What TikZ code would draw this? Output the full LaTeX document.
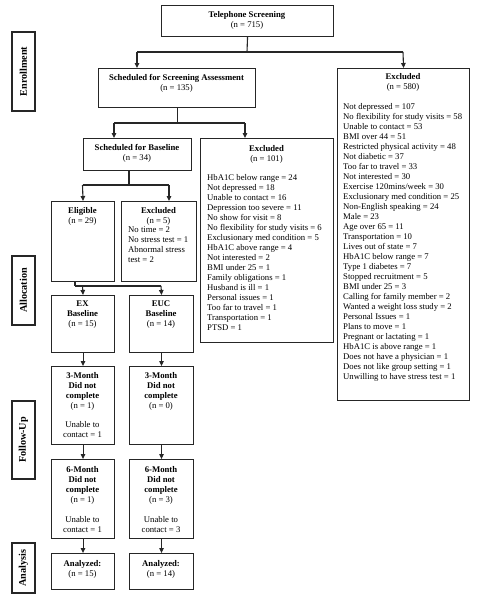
\documentclass[tikz,border=0pt]{standalone}
\usepackage{fontspec}
\setmainfont{Liberation Serif}
\usetikzlibrary{arrows.meta}
\newcommand\bx[5]{\node[box, anchor=north west, minimum width=#4-#2, minimum height=#5-#3] (#1) at (#2,#3) {};}
\begin{document}
\begin{tikzpicture}[x=1pt,y=-1pt,
  box/.style={draw=black!85, line width=1.1pt, inner sep=0pt},
  txt/.style={inner sep=0pt, align=center, font=\fontsize{8.7}{10}\selectfont, anchor=north},
  lst/.style={inner sep=0pt, align=left, font=\fontsize{8.7}{10}\selectfont, anchor=north west},
  lab/.style={draw=black!85, line width=1.1pt, inner sep=0pt, rotate=90, font=\bfseries\fontsize{10.2}{12}\selectfont},
  ln/.style={draw=black!85, line width=1.1pt},
  arr/.style={draw=black!85, line width=1.1pt, -{Triangle[length=5pt,width=4.5pt]}}]
\useasboundingbox[fill=white] (0,0) rectangle (478,600);

% side labels
\node[lab, minimum width=79, minimum height=23] (enr) at (23.5,71.5) {Enrollment};
\node[lab, minimum width=69, minimum height=23] (alloc) at (23.5,290.5) {Allocation};
\node[lab, minimum width=78, minimum height=23] (fu) at (23.5,440) {Follow-Up};
\node[lab, minimum width=50, minimum height=23] (ana) at (23.5,568) {Analysis};

% boxes
\bx{tel}{161}{5}{333}{36}
\bx{sched}{98}{68}{255}{107}
\bx{ex580}{337}{68}{469}{400}
\bx{base}{83}{138}{191}{170}
\bx{ex101}{200}{138}{333}{342}
\bx{elig}{51}{201}{114}{281}
\bx{ex5}{121}{201}{196}{281}
\bx{exb}{51}{295}{114}{352}
\bx{eucb}{129}{295}{193}{352}
\bx{ex3}{51}{366}{114}{444}
\bx{euc3}{129}{366}{193}{444}
\bx{ex6}{51}{459}{114}{538}
\bx{euc6}{129}{459}{193}{538}
\bx{exa}{51}{553}{114}{589}
\bx{euca}{129}{553}{193}{589}

% texts
\node[txt] (telt) at (247,10.8) {\textbf{Telephone Screening}\\(n = 715)};
\node[txt] (schedt) at (176.5,73.8) {\textbf{Scheduled for Screening Assessment}\\(n = 135)};
\node[txt] (ex580h) at (403,73.3) {\textbf{Excluded}\\(n = 580)};
\node[lst] (ex580l) at (343,103.3) {Not depressed = 107\\No flexibility for study visits = 58\\Unable to contact = 53\\BMI over 44 = 51\\Restricted physical activity = 48\\Not diabetic = 37\\Too far to travel = 33\\Not interested = 30\\Exercise 120mins/week = 30\\Exclusionary med condition = 25\\Non-English speaking = 24\\Male = 23\\Age over 65 = 11\\Transportation = 10\\Lives out of state = 7\\HbA1C below range = 7\\Type 1 diabetes = 7\\Stopped recruitment = 5\\BMI under 25 = 3\\Calling for family member = 2\\Wanted a weight loss study = 2\\Personal Issues = 1\\Plans to move = 1\\Pregnant or lactating = 1\\HbA1C is above range = 1\\Does not have a physician = 1\\Does not like group setting = 1\\Unwilling to have stress test = 1};
\node[txt] (ex101h) at (266.5,144.8) {\textbf{Excluded}\\(n = 101)};
\node[lst] (ex101l) at (207,173.8) {HbA1C below range = 24\\Not depressed = 18\\Unable to contact = 16\\Depression too severe = 11\\No show for visit = 8\\No flexibility for study visits = 6\\Exclusionary med condition = 5\\HbA1C above range = 4\\Not interested = 2\\BMI under 25 = 1\\Family obligations = 1\\Husband is ill = 1\\Personal issues = 1\\Too far to travel = 1\\Transportation = 1\\PTSD = 1};
\node[txt] (baset) at (137,143.8) {\textbf{Scheduled for Baseline}\\(n = 34)};
\node[txt] (eligt) at (82.5,206.8) {\textbf{Eligible}\\(n = 29)};
\node[txt] (ex5h) at (158.5,206.8) {\textbf{Excluded}\\(n = 5)};
\node[lst] (ex5l) at (128,226.8) {No time = 2\\No stress test = 1\\Abnormal stress\\test = 2};
\node[txt] (exbt) at (82.5,300.8) {\textbf{EX}\\\textbf{Baseline}\\(n = 15)};
\node[txt] (eucbt) at (161,300.8) {\textbf{EUC}\\\textbf{Baseline}\\(n = 14)};
\node[txt] (ex3t) at (82.5,371.8) {\textbf{3-Month}\\\textbf{Did not}\\\textbf{complete}\\(n = 1)\\[9pt]Unable to\\contact = 1};
\node[txt] (euc3t) at (161,371.8) {\textbf{3-Month}\\\textbf{Did not}\\\textbf{complete}\\(n = 0)};
\node[txt] (ex6t) at (82.5,465.8) {\textbf{6-Month}\\\textbf{Did not}\\\textbf{complete}\\(n = 1)\\[10pt]Unable to\\contact = 1};
\node[txt] (euc6t) at (161,465.8) {\textbf{6-Month}\\\textbf{Did not}\\\textbf{complete}\\(n = 3)\\[10pt]Unable to\\contact = 3};
\node[txt] (exat) at (82.5,559.8) {\textbf{Analyzed:}\\(n = 15)};
\node[txt] (euct) at (161,559.8) {\textbf{Analyzed:}\\(n = 14)};

% connectors
\coordinate (j1) at (247,52);
\coordinate (j1l) at (137,52);
\coordinate (j1r) at (403,52);
\draw[ln] (tel.south) -- (j1);
\draw[ln] (j1l) -- (j1r);
\draw[arr] (j1l) -- (j1l |- sched.north);
\draw[arr] (j1r) -- (ex580.north);

\coordinate (j2l) at (114,123);
\coordinate (j2r) at (245,123);
\draw[ln] (sched.south) -- (sched.south |- j2l);
\draw[ln] (j2l) -- (j2r);
\draw[arr] (j2l) -- (j2l |- base.north);
\draw[arr] (j2r) -- (j2r |- ex101.north);

\coordinate (j3) at (129,185);
\coordinate (j3l) at (82.5,185);
\coordinate (j3r) at (169,185);
\draw[ln] (j3 |- base.south) -- (j3);
\draw[ln] (j3l) -- (j3r);
\draw[arr] (j3l) -- (elig.north);
\draw[arr] (j3r) -- (j3r |- ex5.north);

\coordinate (j4) at (75,286);
\coordinate (j4l) at (82.5,286);
\coordinate (j4r) at (161,286);
\draw[ln] (j4 |- elig.south) -- (j4);
\draw[ln] (j4) -- (j4r);
\draw[arr] (j4l) -- (exb.north);
\draw[arr] (j4r) -- (eucb.north);

\draw[arr] (exb.south) -- (ex3.north);
\draw[arr] (eucb.south) -- (euc3.north);
\draw[arr] (ex3.south) -- (ex6.north);
\draw[arr] (euc3.south) -- (euc6.north);
\draw[arr] (ex6.south) -- (exa.north);
\draw[arr] (euc6.south) -- (euca.north);
\end{tikzpicture}
\end{document}
